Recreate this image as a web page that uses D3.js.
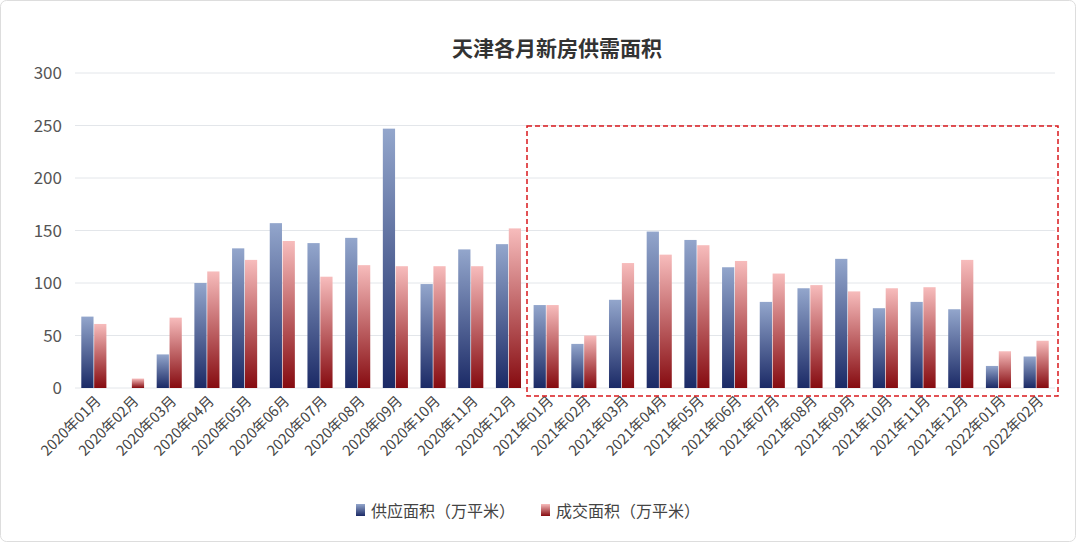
<!DOCTYPE html><html><head><meta charset="utf-8">
<script src="https://cdn.jsdelivr.net/npm/d3@7"></script>
<style>body{margin:0;background:#fff;font-family:"Noto Sans CJK SC","Noto Sans",sans-serif}</style></head><body>
<svg id="c" width="1076" height="542"></svg>
<script>
const categories=["2020年01月","2020年02月","2020年03月","2020年04月","2020年05月","2020年06月","2020年07月","2020年08月","2020年09月","2020年10月","2020年11月","2020年12月","2021年01月","2021年02月","2021年03月","2021年04月","2021年05月","2021年06月","2021年07月","2021年08月","2021年09月","2021年10月","2021年11月","2021年12月","2022年01月","2022年02月"];
const supply=[68,0,32,100,133,157,138,143,247,99,132,137,79,42,84,149,141,115,82,95,123,76,82,75,21,30];
const deal=[61,9,67,111,122,140,106,117,116,116,116,152,79,50,119,127,136,121,109,98,92,95,96,122,35,45];
const yTicks=[0,50,100,150,200,250,300];
const seriesNames=["供应面积（万平米）","成交面积（万平米）"];

const svg=d3.select("#c");
svg.append("rect").attr("x",0.5).attr("y",0.5).attr("width",1075).attr("height",541).attr("rx",6).attr("fill","#fff").attr("stroke","#ddd");
const defs=svg.append("defs");
function grad(id,top,bot){const g=defs.append("linearGradient").attr("id",id).attr("x1",0).attr("y1",0).attr("x2",0).attr("y2",1);
g.append("stop").attr("offset","0%").attr("stop-color",top);g.append("stop").attr("offset","100%").attr("stop-color",bot);}
grad("gs","#93a6cc","#1b2a66");grad("gd","#f7bcbc","#860b10");
const L=75,R=1055,T=73,B=388;
const y=d3.scaleLinear().domain([0,300]).range([B,T]);
const x=d3.scaleBand().domain(categories).range([L,R]).paddingInner(0.3).paddingOuter(0.15);
const xs=d3.scaleBand().domain([0,1]).range([0,x.bandwidth()]).padding(0.05);
svg.append("g").selectAll("line").data(yTicks).join("line").attr("x1",L).attr("x2",R).attr("y1",d=>y(d)).attr("y2",d=>y(d)).attr("stroke","#e3e6ea");
svg.append("g").selectAll("text").data(yTicks).join("text").attr("x",62).attr("y",d=>y(d)+6).attr("text-anchor","end").attr("font-size",17).attr("fill","#555").text(d=>d);
const g=svg.append("g");
[supply,deal].forEach((arr,k)=>{
g.selectAll(null).data(arr).join("rect").attr("x",(d,i)=>x(categories[i])+xs(k)).attr("width",xs.bandwidth())
.attr("y",d=>y(d)).attr("height",d=>B-y(d)).attr("fill",k?"url(#gd)":"url(#gs)");});
svg.append("g").selectAll("text").data(categories).join("text")
.attr("transform",d=>`translate(${x(d)+x.bandwidth()/2+8},${B+14}) rotate(-45)`).attr("text-anchor","end").attr("font-size",14.5).attr("fill","#444").text(d=>d);
svg.append("text").attr("x",557).attr("y",56).attr("text-anchor","middle").attr("font-size",21).attr("font-weight","bold").attr("fill","#333").text("天津各月新房供需面积");
svg.append("rect").attr("x",527).attr("y",126).attr("width",531).attr("height",270).attr("fill","none").attr("stroke","#d9191c").attr("stroke-width",1.5).attr("stroke-dasharray","5,3");
const lg=svg.append("g");
[[356,"url(#gs)",seriesNames[0]],[541,"url(#gd)",seriesNames[1]]].forEach(([lx,f,t])=>{
lg.append("rect").attr("x",lx).attr("y",504).attr("width",9).attr("height",12).attr("fill",f);
lg.append("text").attr("x",lx+15).attr("y",517).attr("font-size",16).attr("fill","#444").text(t);});
</script></body></html>
